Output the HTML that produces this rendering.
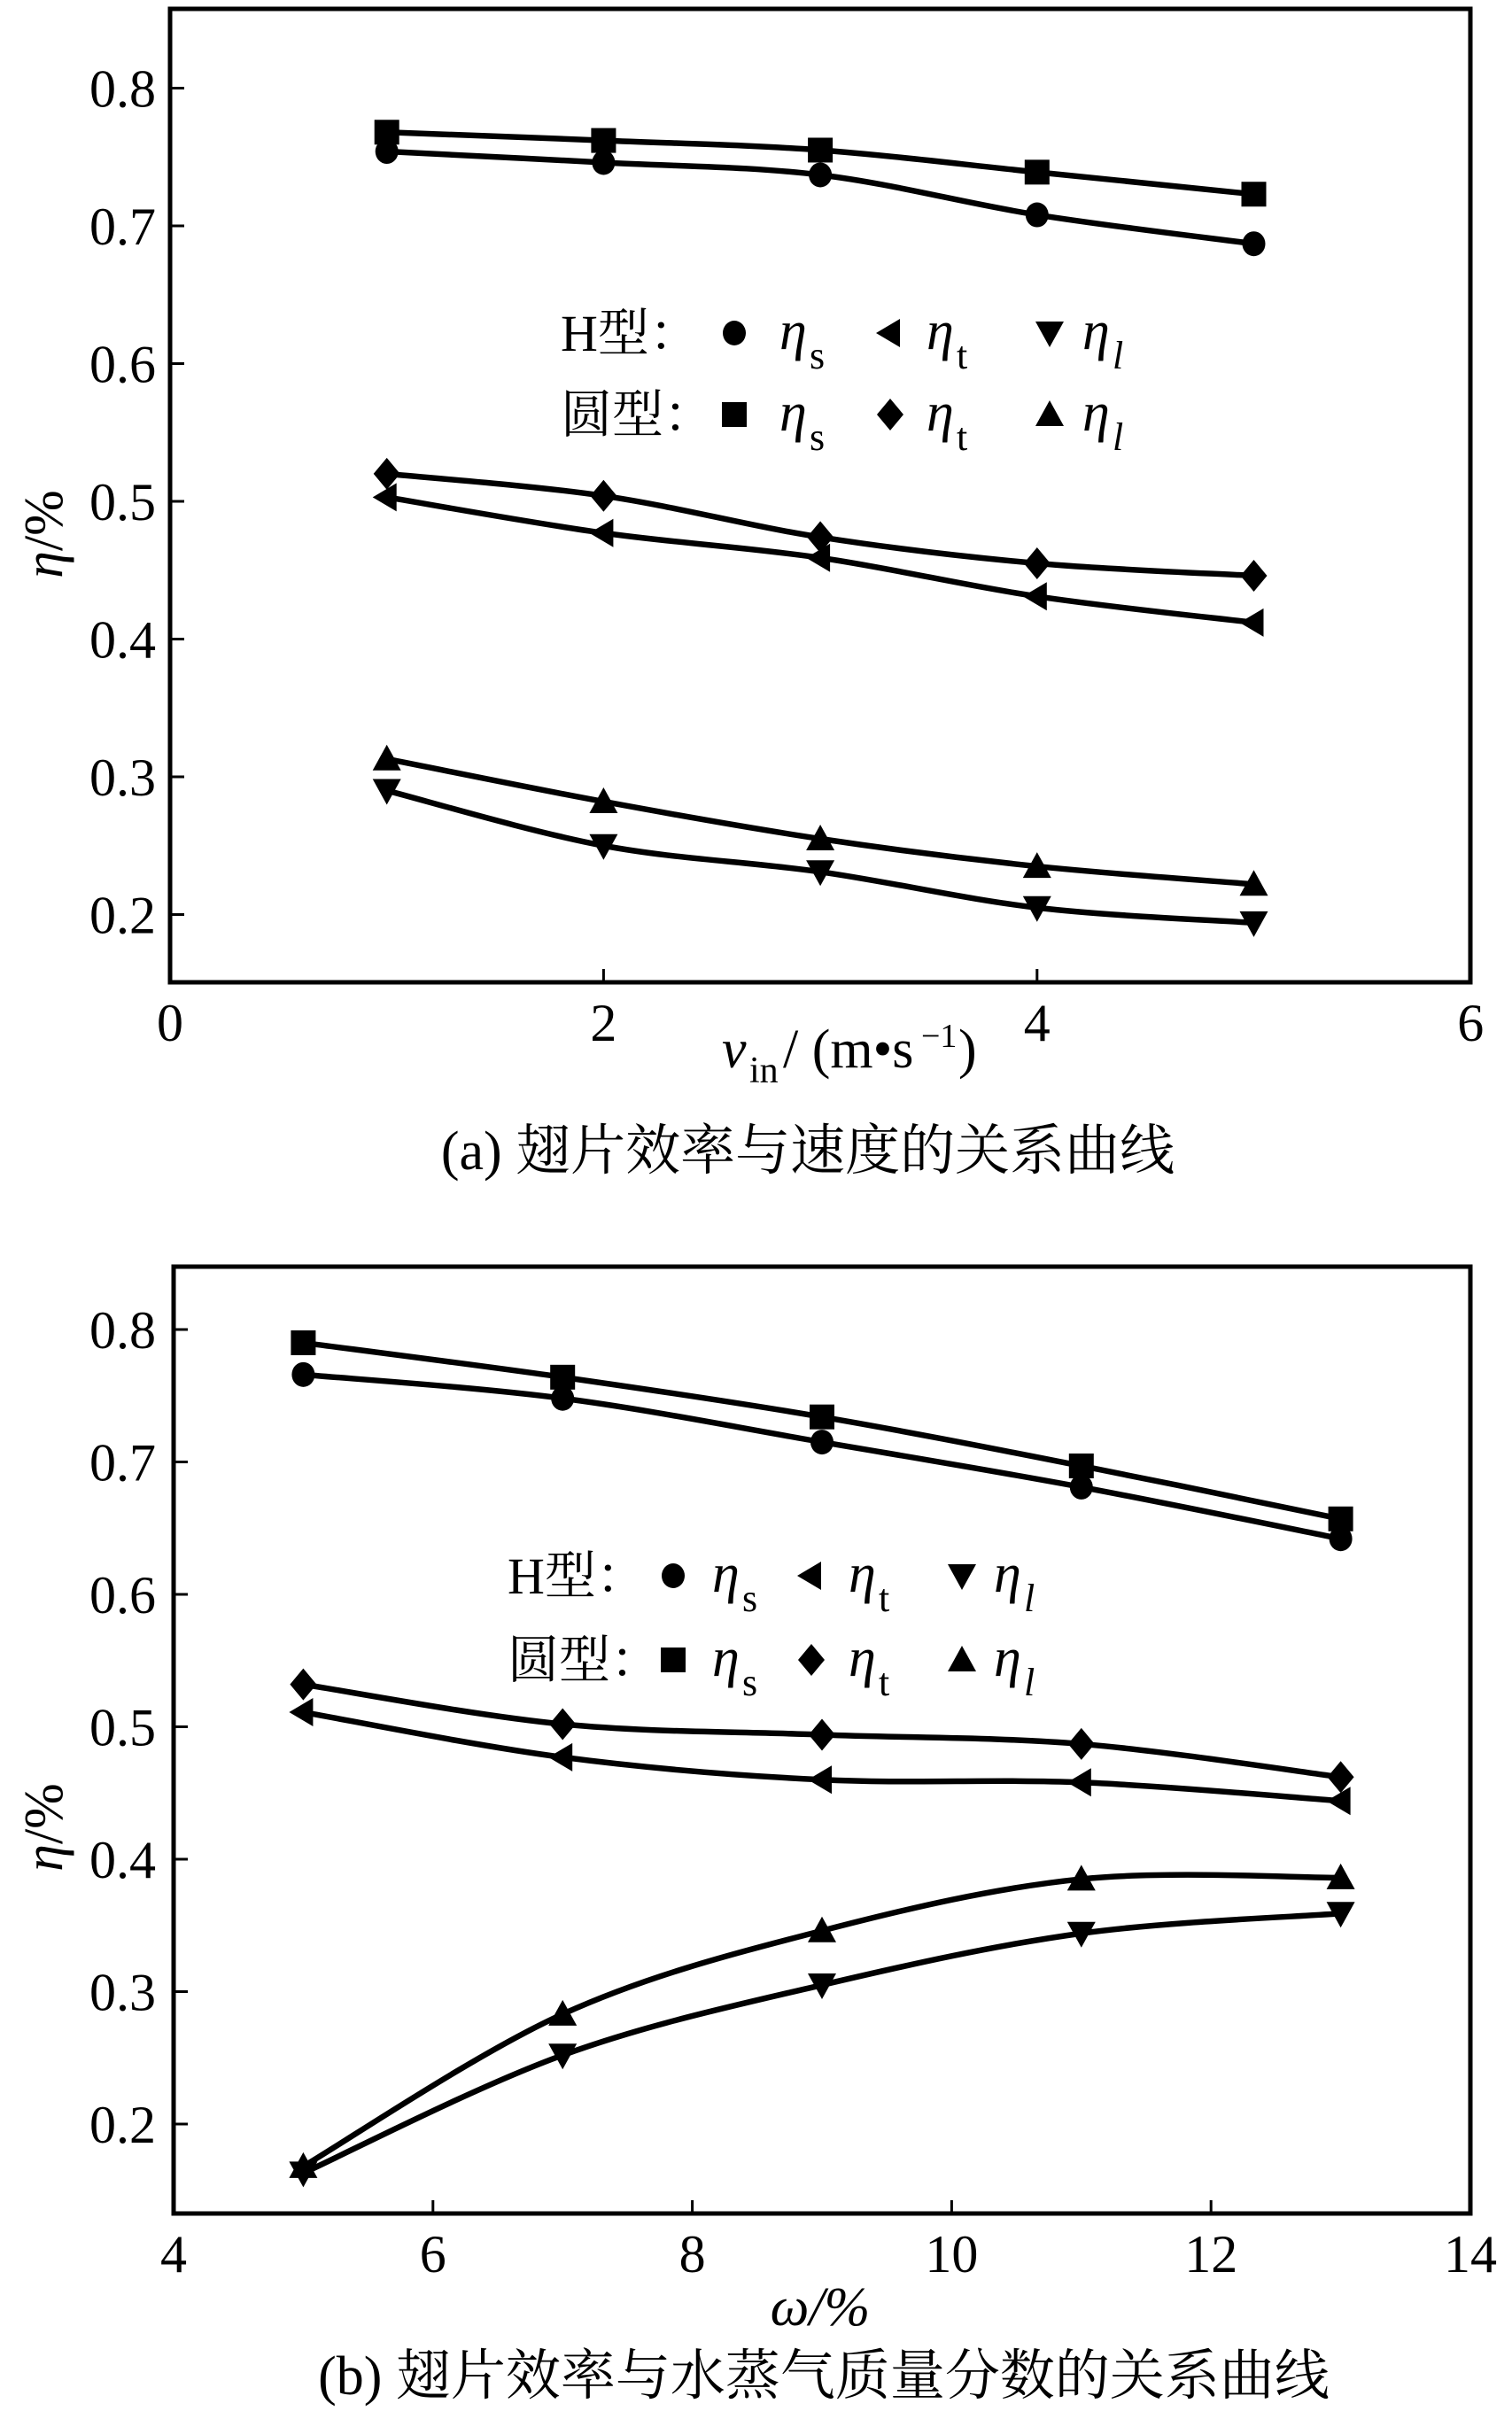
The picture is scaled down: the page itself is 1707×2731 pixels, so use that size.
<!DOCTYPE html>
<html><head><meta charset="utf-8">
<style>
html,body{margin:0;padding:0;background:#fff;}
svg{display:block;}
text{font-family:"Liberation Serif","Noto Serif CJK SC",serif;fill:#000;}
</style></head>
<body>
<svg id="s" width="1707" height="2731" xmlns="http://www.w3.org/2000/svg">
<rect width="1707" height="2731" fill="#fff"/>
<g id="g"></g>
</svg>
<script>
var NS="http://www.w3.org/2000/svg",G=document.getElementById('g');
function el(t,a,txt){var e=document.createElementNS(NS,t);for(var k in a)e.setAttribute(k,a[k]);if(txt!==undefined)e.textContent=txt;G.appendChild(e);return e;}
function path(pts){var d="M"+pts[0][0]+","+pts[0][1];for(var i=0;i<pts.length-1;i++){var p0=pts[i-1]||pts[i],p1=pts[i],p2=pts[i+1],p3=pts[i+2]||p2;var t=6;d+=" C"+(p1[0]+(p2[0]-p0[0])/t)+","+(p1[1]+(p2[1]-p0[1])/t)+" "+(p2[0]-(p3[0]-p1[0])/t)+","+(p2[1]-(p3[1]-p1[1])/t)+" "+p2[0]+","+p2[1];}return d;}
function marker(type,x,y){
 if(type=='c')el('ellipse',{cx:x,cy:y,rx:13,ry:14});
 else if(type=='s')el('rect',{x:x-14,y:y-14,width:28,height:28});
 else if(type=='d')el('polygon',{points:[x,y-18,x+15,y,x,y+18,x-15,y].join(' ')});
 else if(type=='l')el('polygon',{points:[x-16,y,x+11,y-16,x+11,y+16].join(' ')});
 else if(type=='u')el('polygon',{points:[x,y-16,x+16,y+13,x-16,y+13].join(' ')});
 else if(type=='v')el('polygon',{points:[x,y+16,x+16,y-13,x-16,y-13].join(' ')});
}
function plot(o){
 var X=function(v){return o.x0+(v-o.xa)*o.xs},Y=function(v){return o.y08+(0.8-v)*o.ys*100};
 el('rect',{x:o.L,y:o.T,width:o.R-o.L,height:o.B-o.T,fill:'none',stroke:'#000','stroke-width':5});
 o.xt.forEach(function(v){var x=X(v);el('line',{x1:x,y1:o.B,x2:x,y2:o.B-15,stroke:'#000','stroke-width':3});
   el('text',{x:x,y:o.B+66,'font-size':60,'text-anchor':'middle'},String(v));});
 [0.2,0.3,0.4,0.5,0.6,0.7,0.8].forEach(function(v){var y=Y(v);el('line',{x1:o.L,y1:y,x2:o.L+16,y2:y,stroke:'#000','stroke-width':3});
   el('text',{x:176,y:y+21,'font-size':60,'text-anchor':'end'},v.toFixed(1));});
 o.series.forEach(function(s){var pts=o.xs_.map(function(v,i){return[X(v),Y(s.d[i])]});
   el('path',{d:path(pts),fill:'none',stroke:'#000','stroke-width':6.5});
   pts.forEach(function(p){marker(s.m,p[0],p[1])});});
}
plot({L:192,R:1660,T:10,B:1109,x0:192,xa:0,xs:244.7,y08:99.5,ys:15.55,xt:[0,2,4,6],xs_:[1,2,3,4,5],
 series:[{m:'s',d:[.768,.762,.755,.739,.723]},{m:'c',d:[.754,.746,.737,.708,.687]},
 {m:'d',d:[.520,.504,.474,.455,.446]},{m:'l',d:[.503,.477,.459,.431,.412]},
 {m:'u',d:[.313,.282,.255,.235,.222]},{m:'v',d:[.290,.250,.231,.205,.194]}]});
plot({L:196,R:1660,T:1430,B:2499,x0:196,xa:4,xs:146.4,y08:1501,ys:14.95,xt:[4,6,8,10,12,14],xs_:[5,7,9,11,13],
 series:[{m:'s',d:[.790,.764,.734,.697,.657]},{m:'c',d:[.766,.748,.715,.681,.642]},
 {m:'d',d:[.532,.502,.494,.487,.462]},{m:'l',d:[.511,.477,.460,.458,.444]},
 {m:'u',d:[.168,.283,.346,.385,.386]},{m:'v',d:[.163,.252,.305,.344,.359]}]});
function eta(x,y,sub,ital){el('text',{x:x,y:y,'font-size':62,'font-style':'italic'},'η');
 el('text',{x:x+34,y:y+22,'font-size':44,'font-style':ital?'italic':'normal'},sub);}
function legend(x0,y1,y2,mx,ex){
 el('text',{x:x0,y:y1+20,'font-size':58},'H型：');el('text',{x:x0,y:y2+20,'font-size':58},'圆型：');
 var m1=['c','l','v'],m2=['s','d','u'],sb=['s','t','l'];
 for(var i=0;i<3;i++){marker(m1[i],mx[i],y1);marker(m2[i],mx[i],y2);
  eta(ex[i],y1+18,sb[i],i==2);eta(ex[i],y2+18,sb[i],i==2);}
}
legend(633,376,468,[829,1005,1185],[880,1046,1222]);
legend(573,1779,1874,[760,916,1086],[804,958,1122]);
el('text',{x:815,y:1205,'font-size':62,'font-style':'italic'},'v');
el('text',{x:846,y:1222,'font-size':42},'in');
el('text',{x:884,y:1205,'font-size':62},'/ (m•s');
el('text',{x:1040,y:1182,'font-size':38},'−1');
el('text',{x:1082,y:1205,'font-size':62},')');
el('text',{x:912,y:1320,'font-size':62,'text-anchor':'middle'},'(a) 翅片效率与速度的关系曲线');
el('text',{x:926,y:2625,'font-size':62,'text-anchor':'middle','font-style':'italic'},'ω/%');
el('text',{x:930,y:2703,'font-size':62,'text-anchor':'middle'},'(b) 翅片效率与水蒸气质量分数的关系曲线');
[603,2063].forEach(function(yy){var t=el('text',{x:0,y:0,'font-size':62,'text-anchor':'middle',transform:'translate(70,'+yy+') rotate(-90)'});
 t.innerHTML='<tspan font-style="italic">η</tspan>/%';});
</script>
</body></html>
